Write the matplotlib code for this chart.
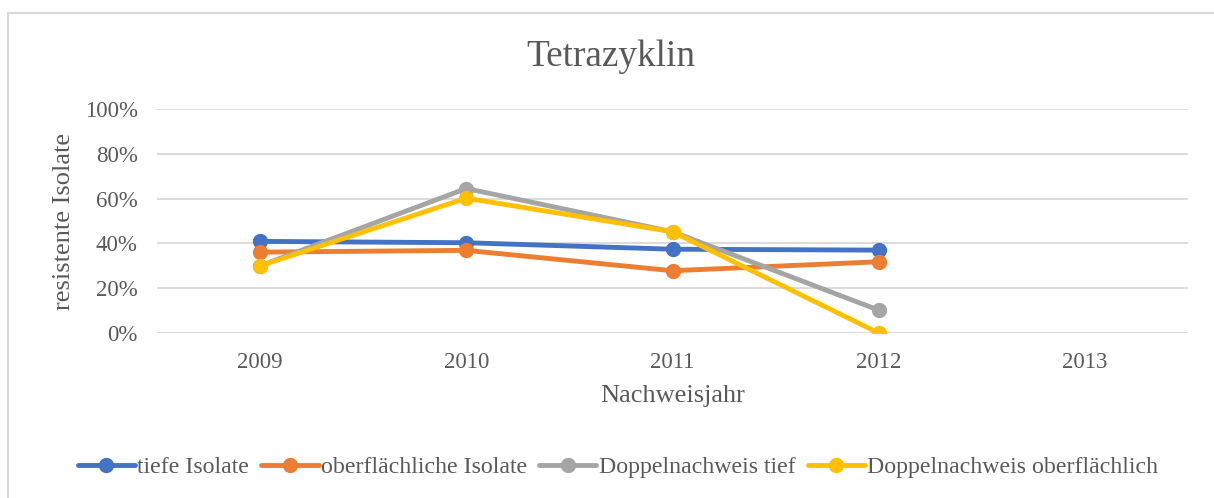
import matplotlib.pyplot as plt
from matplotlib.patches import Rectangle
from matplotlib.ticker import PercentFormatter

plt.rcParams['font.family'] = ['Liberation Serif', 'DejaVu Serif']

years = ["2009", "2010", "2011", "2012", "2013"]
tiefe = [0.409, 0.403, 0.374, 0.370]
oberflaechlich = [0.361, 0.369, 0.278, 0.318]
doppel_tief = [0.30, 0.645, 0.452, 0.102]
doppel_oberfl = [0.30, 0.602, 0.452, 0.0]

series = [
    ("tiefe Isolate", tiefe, "#4472C4"),
    ("oberflächliche Isolate", oberflaechlich, "#ED7D31"),
    ("Doppelnachweis tief", doppel_tief, "#A5A5A5"),
    ("Doppelnachweis oberflächlich", doppel_oberfl, "#FFC000"),
]

text_col = "#595959"

fig = plt.figure(figsize=(12.14, 4.98), dpi=100)
fig.patches.append(Rectangle((8 / 1214, -0.1), 1.2, 1 - 13 / 498 + 0.1, transform=fig.transFigure,
                             fill=False, edgecolor="#d9d9d9", linewidth=1.5))
ax = fig.add_axes([157 / 1214, 1 - 333 / 498, 1031 / 1214, 224 / 498])

for name, vals, col in series:
    ax.plot(range(len(vals)), vals, color=col, linewidth=3.5, marker="o", markersize=10,
            label=name, solid_capstyle="round", zorder=3)

ax.set_xlim(-0.5, len(years) - 0.5)
ax.set_ylim(0, 1)
ax.set_xticks(range(len(years)))
ax.set_xticklabels(years)
ax.set_yticks([0, 0.2, 0.4, 0.6, 0.8, 1.0])
ax.yaxis.set_major_formatter(PercentFormatter(1.0, decimals=0))
ax.tick_params(length=0, labelsize=16.5, labelcolor=text_col)
ax.tick_params(axis="y", pad=14)
ax.tick_params(axis="x", pad=14)
ax.grid(axis="y", color="#d9d9d9", linewidth=1.3)
ax.set_axisbelow(True)
for s in ax.spines.values():
    s.set_visible(False)

ax.set_xlabel("Nachweisjahr", fontsize=19, color=text_col, labelpad=8)
ax.set_ylabel("resistente Isolate", fontsize=19, color=text_col, labelpad=7)
fig.text(0.5 + 4 / 1214, 1 - 57 / 498, "Tetrazyklin", fontsize=26.8, color=text_col,
         ha="center", va="center")

fig.legend(loc="center", bbox_to_anchor=(618 / 1214, 1 - 467 / 498), ncol=4, frameon=False,
           fontsize=17.2, labelcolor=text_col, handlelength=2.4, handletextpad=0.1,
           columnspacing=0.5)

fig.savefig("out.png", dpi=100)
